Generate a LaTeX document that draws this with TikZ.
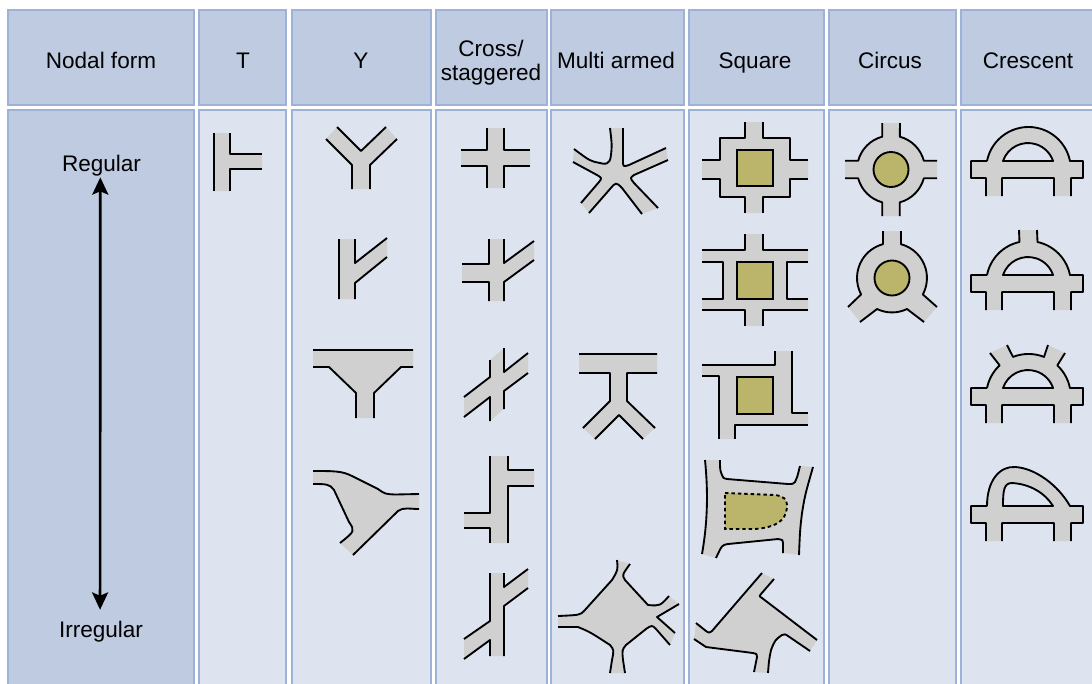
\documentclass[tikz,border=0pt]{standalone}
\usepackage{fontspec}
\setmainfont{Liberation Sans}
\usetikzlibrary{arrows.meta}
\definecolor{headfill}{HTML}{BFCBE0}
\definecolor{bodyfill}{HTML}{DDE4F0}
\definecolor{cellline}{HTML}{9DB2D6}
\definecolor{roadfill}{HTML}{D0D0D0}
\definecolor{islandfill}{HTML}{BAB56A}
% \gp is a join when filling and a lift of the pen when stroking
\newcommand{\junction}[1]{\def\gp{--}\fill[road] #1; \def\gp{}\draw[kerb] #1;}
\newcommand{\crlow}{-- (1083,161) -- (1083,178) -- (1071,178) -- (1071,196) \gp (1054,196) -- (1054,178) -- (1002,178) -- (1002,196) \gp (986,196) -- (986,178) -- (971,178) -- (971,161) -- (987,161)}
\tikzset{
  headcell/.style={draw=cellline, line width=1.3pt, fill=headfill},
  bodycell/.style={draw=cellline, line width=1.3pt, fill=bodyfill},
  headtext/.style={anchor=base, font=\fontsize{16.9}{20}\selectfont, inner sep=0pt},
  sidetext/.style={anchor=base, font=\fontsize{16.9}{20}\selectfont, inner sep=1pt},
  road/.style={fill=roadfill, draw=none},
  kerb/.style={draw=black, line width=1.4pt, line join=round},
  island/.style={draw=black, line width=1.4pt, fill=islandfill},
  islanddash/.style={draw=black, line width=1.4pt, fill=islandfill, dash pattern=on 2.6pt off 2.2pt},
  hole/.style={draw=black, line width=1.4pt, fill=bodyfill, line join=round},
  updown/.style={{Stealth[length=13pt,width=12pt,inset=2.5pt]}-{Stealth[length=13pt,width=12pt,inset=2.5pt]}, line width=2pt}
}
\begin{document}
\begin{tikzpicture}[x=0.75pt,y=0.75pt,yscale=-1]
  \path[use as bounding box] (0,0) rectangle (1092,683);
  \clip (0,0) rectangle (1092,683);
  % columns
  \foreach \xa/\xb in {8/194,199/286,292/431,436/547,551/684,689/824,829/956,961/1100} {
    \draw[headcell] (\xa,10) rectangle (\xb,105);
    \draw[bodycell] (\xa,110) rectangle (\xb,695);
  }
  \draw[headcell] (8,110) rectangle (194,695);
  % header labels
  \node[headtext] (nodal) at (101,68) {Nodal form};
  \node[headtext] (colt) at (243,68) {T};
  \node[headtext] (coly) at (361,68) {Y};
  \node[headtext] (colcross) at (491,56.5) {Cross/};
  \node[headtext] (colstag) at (491,80) {staggered};
  \node[headtext] (colmulti) at (616,68) {Multi armed};
  \node[headtext] (colsquare) at (755,68) {Square};
  \node[headtext] (colcircus) at (890,68) {Circus};
  \node[headtext] (colcrescent) at (1028,68) {Crescent};
  % scale
  \node[sidetext] (regular) at (101.5,171) {Regular};
  \node[sidetext] (irregular) at (101,637) {Irregular};
  \draw[updown, shorten >=7pt] ([xshift=-0.9pt]regular.south) -- ([xshift=-0.7pt]irregular.north);
  % T
  \junction{(230,133) -- (230,154) -- (262,154) \gp (262,169) -- (230,169) -- (230,191) \gp (214,191) -- (214,133)}
  % Y
  \junction{(337,127) -- (361,151) -- (386,127) \gp (397,139) -- (370,165) -- (370,189) \gp (352,189) -- (352,165) -- (326,139)}
  \junction{(355,239) -- (355,263) -- (387,238) \gp (387,257) -- (355,283) -- (355,299) \gp (339,299) -- (339,239)}
  \junction{(313,350) -- (413,350) \gp (413,367) -- (401,367) -- (374,393) -- (374,418) \gp (356,418) -- (356,393) -- (329,367) -- (313,367)}
  \junction{(313,471) .. controls (335,471) and (342,471) .. (352,476) -- (378,489) .. controls (385,494) .. (395,494.5) -- (419,494) \gp (419,509) .. controls (410,509) and (403,507) .. (398,511) -- (353,555) \gp (340,543) .. controls (355,531) .. (349,522) -- (334,490) .. controls (330,484) and (326,484) .. (313,484)}
  % cross and staggered
  \junction{(504,128) -- (504,150) -- (530,150) \gp (530,166) -- (504,166) -- (504,188) \gp (487,188) -- (487,166) -- (461,166) \gp (461,150) -- (487,150) -- (487,128)}
  \junction{(504,239) -- (504,263) -- (534,241) \gp (534,260) -- (504,282) -- (504,301) \gp (489,301) -- (489,282) -- (462,282) \gp (462,264) -- (489,264) -- (489,239)}
  \junction{(504,348) -- (504,372) -- (528,353) \gp (528,373) -- (504,391) -- (504,409) \gp (490,421) -- (490,397) -- (464,417) \gp (464,397) -- (490,377) -- (490,360)}
  \junction{(508,456) -- (508,470) -- (534,470) \gp (534,486) -- (508,486) -- (508,543) \gp (490,543) -- (490,528) -- (464,528) \gp (464,513) -- (490,513) -- (490,456)}
  \junction{(504,573) -- (504,587) -- (528,569) \gp (528,588) -- (504,606) -- (504,656) \gp (490,656) -- (490,640) -- (464,659) \gp (464,639) -- (490,621) -- (490,573)}
  % multi armed
  \junction{(610,128) .. controls (612,145) .. (611,155) .. controls (610,166) and (604,164) .. (600,163) .. controls (590,161) .. (574,149) \gp (573,162) -- (597,175) .. controls (602,178) .. (599,182) -- (581,203) \gp (589,213) -- (610,189) .. controls (616,182) .. (622,188) -- (642,214) \gp (658,208) -- (634,183) .. controls (630,178) .. (634,175) -- (668,160) \gp (666,148) -- (629,165) .. controls (623,167) .. (623,160) -- (623,128)}
  \junction{(579,354) -- (657,354) \gp (657,373) -- (627,373) -- (627,401) -- (655,428) \gp (643,439) -- (619,415) -- (595,439) \gp (583,428) -- (610,401) -- (610,373) -- (579,373)}
  \junction{(617,560) .. controls (618,570) .. (612,580) -- (584,611) .. controls (580,615) .. (558,616) \gp (558,627) -- (578,627) .. controls (590,632) .. (610,645) .. controls (614,650) .. (612,660) -- (610,673) \gp (625,673) -- (623,660) .. controls (622,650) .. (626,645) -- (646,629) .. controls (652,625) .. (656,629) -- (670,645) \gp (675,633) -- (657,617) -- (679,604) \gp (669,596) .. controls (660,606) .. (648,605) -- (625,580) .. controls (622,575) .. (630,564)}
  % square
  \junction{(763,122) -- (763,138) -- (790,138) -- (790,160) -- (808,160) \gp (808,179) -- (790,179) -- (790,197) -- (763,197) -- (763,213) \gp (745,213) -- (745,197) -- (720,197) -- (720,179) -- (702,179) \gp (702,160) -- (720,160) -- (720,138) -- (745,138) -- (745,122)}
  \draw[island] (737,150) rectangle (773,186);
  \junction{(763,234) -- (763,250) -- (808,250) \gp (808,262) -- (787,262) -- (787,299) -- (808,299) \gp (808,310) -- (763,310) -- (763,326) \gp (745,326) -- (745,310) -- (702,310) \gp (702,299) -- (723,299) -- (723,262) -- (702,262) \gp (702,250) -- (745,250) -- (745,234)}
  \draw[island] (737,262) rectangle (773,299);
  \junction{(702,365) -- (775,365) -- (775,351) \gp (792,351) -- (792,413) -- (808,413) \gp (808,425) -- (735,425) -- (735,439) \gp (719,439) -- (719,376) -- (702,376)}
  \draw[island] (737,377) rectangle (773,414);
  \junction{(720,460) .. controls (720,470) .. (722,475) .. controls (723,478) .. (727,479) -- (788,484) .. controls (793,484) .. (795,482) .. controls (797,478) .. (800,466) \gp (813,467) .. controls (805,495) .. (802,513) .. controls (800,530) .. (799,555) \gp (783,553) -- (783,543) .. controls (783,540) .. (778,539) -- (728,544) .. controls (722,545) .. (716,558) \gp (702,554) .. controls (708,520) and (708,490) .. (705,460)}
  \draw[islanddash] (725,493) -- (775,495) .. controls (783,496) and (787,499) .. (787,505) .. controls (787,515) and (783,527) .. (755,529) -- (725,529) -- cycle;
  \junction{(762,573) -- (712,631) .. controls (709,633) .. (706,631) -- (696,623) \gp (694,639) -- (706,647) -- (753,653) .. controls (757,654) .. (757,657) -- (754,672) \gp (768,673) .. controls (769,660) .. (771,650) .. controls (775,640) .. (782,635) .. controls (785,634) .. (788,636) -- (810,651) \gp (817,640) -- (762,598) .. controls (759,596) .. (761,594) -- (774,579)}
  % circus
  \junction{(900,123) -- (899.8,136.7) arc[start angle=-75,end angle=-15,radius=34] -- (937,160.7) \gp (937,178.3) -- (923.8,178.3) arc[start angle=15,end angle=75,radius=34] -- (899.8,216) \gp (882.2,216) -- (882.2,202.3) arc[start angle=105,end angle=165,radius=34] -- (845,178.3) \gp (845,160.7) -- (858.2,160.7) arc[start angle=195,end angle=255,radius=34] -- (882.2,123)}
  \draw[island] (891,169.5) circle[radius=17.5];
  \junction{(901,231) -- (901,244.2) arc[start angle=-75,end angle=28,radius=35] -- (937,307) \gp (924,322) -- (907,309) arc[start angle=64.2,end angle=115.8,radius=34.4] -- (860,322) \gp (848,307) -- (861.1,294.4) arc[start angle=152,end angle=255,radius=35] -- (883,231)}
  \draw[island] (892,278) circle[radius=17.5];
  % crescent
  \junction{(987,161) arc[start angle=191.3,end angle=348.7,radius=42.3] \crlow}
  \draw[hole] (1003,161) arc[start angle=198.6,end angle=341.4,radius=26.4] -- cycle;
  \begin{scope}[shift={(0,114)}]
    \junction{(987,161) arc[start angle=191.3,end angle=257.7,radius=42.3] -- (1019,116) \gp (1037,116) -- (1037.5,128) arc[start angle=282.3,end angle=348.7,radius=42.3] \crlow}
    \draw[hole] (1003,161) arc[start angle=198.6,end angle=341.4,radius=26.4] -- cycle;
  \end{scope}
  \begin{scope}[shift={(0,227)}]
    \junction{(987,161) arc[start angle=191.3,end angle=227,radius=42.3] -- (990,126) \gp (1007,118) -- (1013,129.9) arc[start angle=248.5,end angle=291.5,radius=42.3] -- (1048,118) \gp (1065,126) -- (1057.3,138.4) arc[start angle=313,end angle=348.7,radius=42.3] \crlow}
    \draw[hole] (1003,161) arc[start angle=198.6,end angle=341.4,radius=26.4] -- cycle;
  \end{scope}
  \begin{scope}[shift={(0,345)}]
    \junction{(987,161) .. controls (987,135) and (1000,121) .. (1015,122) .. controls (1035,123) and (1058,140) .. (1070,161) \crlow}
    \draw[hole] (1003,161) .. controls (1003,145) and (1004,138) .. (1012,138) .. controls (1030,139) and (1045,148) .. (1053,161) -- cycle;
  \end{scope}
\end{tikzpicture}
\end{document}
